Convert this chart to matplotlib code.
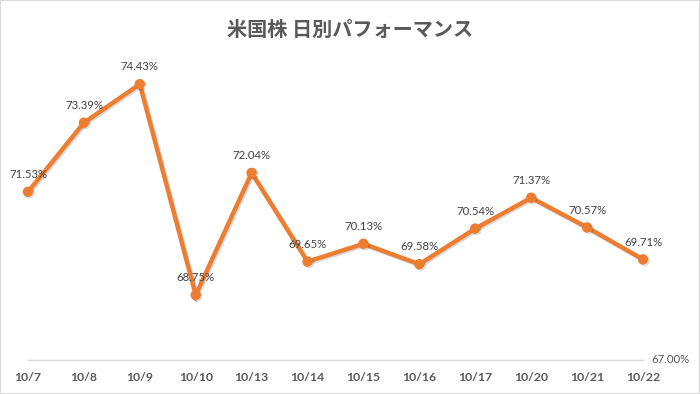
import matplotlib.pyplot as plt
import matplotlib.patheffects as pe
from matplotlib.patches import Rectangle

# data
dates = ['10/7', '10/8', '10/9', '10/10', '10/13', '10/14',
         '10/15', '10/16', '10/17', '10/20', '10/21', '10/22']
perf = [71.53, 73.39, 74.43, 68.75, 72.04, 69.65,
        70.13, 69.58, 70.54, 71.37, 70.57, 69.71]
y_min, y_max = 67.0, 75.0

plt.rcParams['font.family'] = ['Lato', 'Noto Sans CJK JP', 'DejaVu Sans']

fig = plt.figure(figsize=(7, 3.94), dpi=100)
fig.patches.append(Rectangle((0, 0), 1, 1, transform=fig.transFigure,
                             fill=False, edgecolor='#D9D9D9', lw=1.5))

ax = fig.add_axes([0.04, 0.0863, 0.8786, 0.7538])
x = list(range(len(dates)))

ax.plot(x, perf, color='#ED7D31', lw=3.2, marker='o', markersize=6.5,
        solid_joinstyle='miter', clip_on=False, zorder=3,
        path_effects=[pe.SimpleLineShadow(offset=(1, -1), alpha=0.15),
                      pe.Normal()])

for xi, v in zip(x, perf):
    ax.annotate(f'{v:.2f}%', (xi, v), xytext=(0, 8.5), textcoords='offset points',
                ha='center', va='bottom', fontsize=8.2, color='#404040',
                annotation_clip=False)

ax.set_xlim(0, len(dates) - 1)
ax.set_ylim(y_min, y_max)
for s in ['top', 'left', 'right']:
    ax.spines[s].set_visible(False)
ax.spines['bottom'].set_color('#D9D9D9')
ax.spines['bottom'].set_linewidth(1)
ax.set_yticks([])
ax.set_xticks(x)
ax.set_xticklabels(dates, fontsize=8.8, fontweight='bold', color='#595959')
ax.tick_params(axis='x', length=0, pad=9)

ax.text(1.014, 0.0, f'{y_min:.2f}%', transform=ax.transAxes,
        ha='left', va='center', fontsize=8.2, color='#595959')

fig.text(0.5, 0.926, '米国株 日別パフォーマンス', ha='center', va='center',
         fontsize=14.5, color='#595959', fontweight='bold',
         family=['Noto Sans CJK JP', 'DejaVu Sans'])

fig.savefig('out.png', dpi=100)
